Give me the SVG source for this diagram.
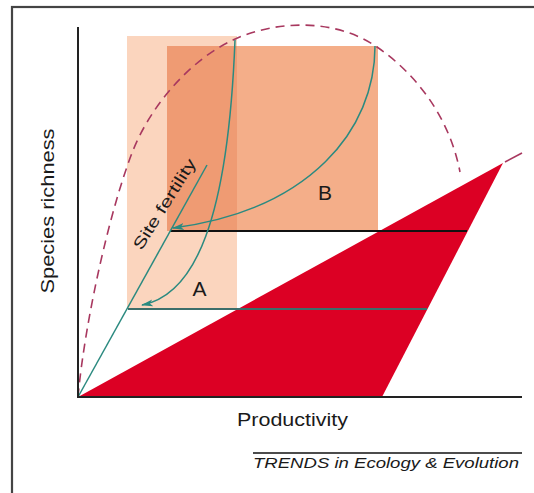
<svg xmlns="http://www.w3.org/2000/svg" width="534" height="493" viewBox="0 0 534 493">
<style>
.teal{fill:none;stroke:#2B8A80;stroke-width:1.5}
.lbl{font-family:"Liberation Sans",Arial,sans-serif;fill:#1a1a1a}
.axis{stroke:#222;stroke-width:2;fill:none}
</style>
<defs>
<marker id="ah" viewBox="0 0 12 8" refX="11" refY="4" markerWidth="12" markerHeight="8" markerUnits="userSpaceOnUse" orient="auto">
<path d="M0,0.5 L12,4 L0,7.5 L3,4 z" fill="#2B8A80"/>
</marker>
</defs>
<rect x="0" y="0" width="534" height="493" fill="#fff"/>
<rect x="12" y="7" width="540" height="500" fill="none" stroke="#444" stroke-width="2.2"/>
<g id="boxA"><rect x="127" y="36" width="110" height="273" fill="#FBD5BE"/></g>
<g id="boxB"><rect x="167" y="46" width="211" height="185" fill="#F4AE89"/>
<rect x="167" y="46" width="70" height="185" fill="#EF9B73"/></g>
<g id="limit">
<path d="M78,397 L503,163 L382,397 z" fill="#DC0024"/>
<line x1="505" y1="162" x2="522" y2="153" stroke="#A8385F" stroke-width="1.6"/>
</g>
<g id="hump"><path d="M78,397 C85,320 110,210 132,153 C150,106 190,60 233,40 C276,20 335,18 377,47 C419,76 450,120 460,172" fill="none" stroke="#A8385F" stroke-width="1.6" stroke-dasharray="9,6"/></g>
<g id="connectors">
<line x1="170" y1="231" x2="467" y2="231" stroke="#111" stroke-width="2"/>
<line x1="128" y1="309" x2="427" y2="309" stroke="#3C6E6A" stroke-width="2"/>
<line class="teal" x1="78" y1="397" x2="207" y2="165"/>
<path class="teal" d="M235,40 C228,220 195,295 142,305" marker-end="url(#ah)"/>
<path class="teal" d="M375,46 C375,130 310,210 173,228" marker-end="url(#ah)"/>
</g>
<g id="axes">
<line class="axis" x1="78" y1="27" x2="78" y2="398"/>
<line class="axis" x1="77" y1="397" x2="522" y2="397"/>
</g>
<g id="labels">
<text class="lbl" x="0" y="0" font-size="18" text-anchor="middle" textLength="165" lengthAdjust="spacingAndGlyphs" transform="translate(54,211) rotate(-90)">Species richness</text>
<text class="lbl" x="292.5" y="426" font-size="18" text-anchor="middle" textLength="111" lengthAdjust="spacingAndGlyphs">Productivity</text>
<text class="lbl" x="0" y="0" font-size="16" text-anchor="middle" textLength="104" lengthAdjust="spacingAndGlyphs" transform="translate(169,207) rotate(-58)">Site fertility</text>
<text class="lbl" x="199.5" y="296" font-size="21" text-anchor="middle">A</text>
<text class="lbl" x="325" y="200" font-size="21" text-anchor="middle">B</text>
<line x1="253" y1="453" x2="522" y2="453" stroke="#111" stroke-width="1.5"/>
<text class="lbl" x="253" y="468" font-size="14.5" font-style="italic" textLength="266" lengthAdjust="spacingAndGlyphs">TRENDS in Ecology &amp; Evolution</text>
</g>
</svg>
